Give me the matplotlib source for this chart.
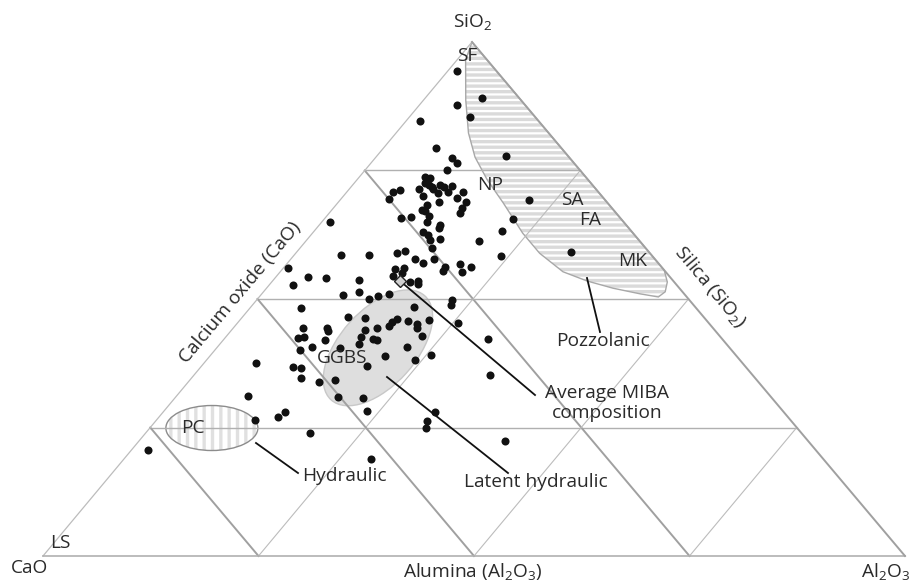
import numpy as np
import matplotlib
matplotlib.use("Agg")
import matplotlib.pyplot as plt
from matplotlib.patches import Polygon, Ellipse

plt.rcParams['font.family'] = ['Open Sans', 'DejaVu Sans']
plt.rcParams['mathtext.fontset'] = 'custom'
plt.rcParams['mathtext.rm'] = 'Open Sans'
plt.rcParams['mathtext.it'] = 'Open Sans:italic'
plt.rcParams['hatch.linewidth'] = 2.4

# compositions (wt %), CaO is the remainder
sio2 = [94.4, 89.1, 87.7, 85.4, 84.6, 79.4, 77.8, 77.4, 76.5, 75.1,
        73.7, 73.5, 72.6, 72.2, 71.8, 72.2, 71.8, 72.0, 70.8, 71.4,
        70.6, 70.8, 70.0, 69.6, 68.9, 68.9, 68.3, 67.3, 67.1, 67.7,
        66.7, 66.1, 66.0, 65.8, 71.2, 70.8, 69.5, 64.4, 63.8, 63.0,
        62.5, 61.5, 61.7, 61.3, 59.9, 63.2, 65.6, 69.3, 58.4, 59.1,
        65.0, 58.6, 58.6, 58.9, 59.3, 57.8, 57.0, 57.8, 56.0, 54.3,
        54.1, 52.7, 53.7, 55.8, 56.0, 55.1, 54.5, 53.3, 53.5, 52.9,
        55.4, 56.2, 56.8, 55.3, 56.2, 50.8, 51.4, 50.0, 50.6, 51.0,
        48.2, 48.4, 49.8, 48.8, 46.5, 46.3, 44.4, 44.4, 43.8, 42.4,
        42.6, 42.0, 40.7, 40.1, 40.5, 44.0, 42.6, 41.2, 42.2, 42.0,
        44.4, 44.7, 45.5, 46.1, 45.7, 45.1, 44.4, 45.9, 42.8, 40.7,
        38.1, 39.1, 38.9, 37.0, 45.3, 42.2, 35.2, 37.5, 36.8, 36.6,
        34.6, 33.9, 34.2, 30.9, 30.7, 28.2, 31.1, 27.0, 28.0, 26.5,
        23.9, 20.6, 18.9, 28.0, 26.3, 24.9, 22.4, 71.4, 65.0]
al2o3 = [1.1, 6.6, 4.4, 7.0, 1.6, 6.1, 15.0, 8.9, 10.0, 9.5,
         7.6, 8.3, 8.2, 8.9, 9.4, 10.1, 10.8, 11.6, 11.7, 8.1,
         10.7, 13.5, 9.3, 13.4, 14.8, 11.6, 10.5, 10.5, 10.9, 14.9,
         15.2, 11.9, 9.9, 8.8, 6.0, 5.4, 5.5, 14.0, 14.2, 12.7,
         13.6, 14.3, 15.4, 20.1, 15.3, 21.8, 21.9, 21.9, 24.1, 31.8,
         1.0, 5.4, 8.6, 11.7, 12.5, 14.4, 15.7, 16.6, 0.5, 3.7,
         5.9, 2.8, 9.9, 13.1, 14.0, 14.2, 13.5, 16.0, 16.9, 17.2,
         18.8, 18.7, 20.1, 21.1, 21.7, 9.5, 11.1, 12.9, 13.7, 14.7,
         5.9, 19.0, 22.7, 23.0, 12.2, 14.3, 8.1, 10.9, 11.3, 8.5,
         9.1, 11.8, 11.0, 9.8, 14.3, 15.5, 15.7, 16.1, 17.3, 17.9,
         16.7, 17.9, 17.9, 18.1, 19.6, 20.9, 21.3, 21.9, 22.7, 22.0,
         24.2, 25.5, 20.3, 19.2, 25.6, 30.6, 34.3, 6.1, 10.7, 11.7,
         12.7, 15.1, 16.8, 18.9, 21.8, 23.5, 8.3, 13.8, 14.1, 11.4,
         19.1, 1.9, 28.7, 31.5, 31.5, 32.0, 42.5, 9.7, 12.2]

miba_sio2, miba_al2o3 = 53.5, 14.8

# pozzolanic field outline
poz_sio2 = [100, 96.5, 88.7, 82.3, 77.6, 73.2, 68.7, 62.8, 58.9, 55.3,
            53.5, 52.1, 51.0, 50.4, 51.4, 53.3, 55.6, 100]
poz_al2o3 = [0, 1.0, 4.9, 8.4, 11.5, 15.1, 19.2, 24.4, 28.3, 32.8,
             36.5, 40.2, 43.9, 46.3, 46.6, 45.9, 44.4, 0]
ggbs_c = (40.5, 18.7)
pc_c = (24.9, 7.2)

H = 514 / 862
AX = 429 / 862


def tern(si, al):
    si = np.asarray(si, float) / 100
    al = np.asarray(al, float) / 100
    return al + si * AX, si * H


def pix(x, y):
    # layout helper: picture pixel -> axes data
    return (x - 43) / 862, (556 - y) / 862


fig = plt.figure(figsize=(9.1, 5.84), dpi=100)
ax = fig.add_axes([0, 0, 1, 1])
ax.set_xlim(-43 / 862, 867 / 862)
ax.set_ylim(-28 / 862, 556 / 862)
ax.axis('off')

# fields
px_, py_ = tern(poz_sio2, poz_al2o3)
pts = np.column_stack([px_, py_])
ax.add_patch(Polygon(pts, closed=True, facecolor='white', edgecolor='#dadada',
                     hatch='---', lw=0, zorder=1))
ax.add_patch(Polygon(pts, closed=True, facecolor='none', edgecolor='#a8a8a8',
                     lw=1.0, zorder=1.5))

gx, gy = tern(*ggbs_c)
ax.add_patch(Ellipse((gx, gy), 140 / 862, 76 / 862, angle=48,
                     facecolor='#dedede', edgecolor='#c8c8c8', lw=1.0, zorder=1))

cx, cy = tern(*pc_c)
ax.add_patch(Ellipse((cx, cy), 92 / 862, 45 / 862, facecolor='white',
                     edgecolor='#e0e0e0', hatch='||', lw=0, zorder=1))
ax.add_patch(Ellipse((cx, cy), 92 / 862, 45 / 862, facecolor='none',
                     edgecolor='#8c8c8c', lw=1.0, zorder=1.5))

# grid
for k in [25, 50, 75]:
    x, y = tern([k, k], [0, 100 - k])
    ax.plot(x, y, color='#b0b0b0', lw=1.0, zorder=2)
    x, y = tern([100 - k, 0], [0, 100 - k])
    ax.plot(x, y, color='#a0a0a0', lw=1.4, zorder=2)
    x, y = tern([0, 100 - k], [k, k])
    ax.plot(x, y, color='#bcbcbc', lw=0.8, zorder=2)

x, y = tern([0, 100], [0, 0])
ax.plot(x, y, color='#bcbcbc', lw=0.9, zorder=2)
x, y = tern([0, 0], [0, 100])
ax.plot(x, y, color='#b0b0b0', lw=1.2, zorder=2)
x, y = tern([100, 0], [0, 100])
ax.plot(x, y, color='#a0a0a0', lw=1.4, zorder=2)

# data
x, y = tern(sio2, al2o3)
ax.plot(x, y, 'o', color='#111111', ms=5.8, mec='none', zorder=3)

# leader lines
mx, my = tern(miba_sio2, miba_al2o3)
lines = [((600, 332), (587, 278)),
         ((535, 395), None),
         ((387, 377), (508, 473)),
         ((256, 443), (298, 473))]
for a, b in lines:
    if b is None:
        x0, y0 = mx, my
    else:
        x0, y0 = pix(*b)
    x1, y1 = pix(*a)
    ax.plot([x0, x1], [y0, y1], color='#111111', lw=1.3, zorder=4)
ax.plot(mx, my, 'D', ms=6, mfc='#d0d0d0', mec='#222222', mew=1.0, zorder=5)

tc = '#2a2a2a'
fs = 13.8


def label(x, y, s, **kw):
    kw.setdefault('fontsize', fs)
    ax.text(*pix(x, y), s, ha='center', va='center', color=tc, zorder=6, **kw)


label(473, 22, 'SiO$_2$')
label(30, 568, 'CaO')
label(886, 571, 'Al$_2$O$_3$')
label(473, 572, 'Alumina (Al$_2$O$_3$)')
label(240, 293, 'Calcium oxide (CaO)', rotation=50, rotation_mode='anchor')
label(710, 287, 'Silica (SiO$_2$)', rotation=-50, rotation_mode='anchor')

label(467, 56, 'SF')
label(490, 185, 'NP')
label(572, 200, 'SA')
label(590, 220, 'FA')
label(633, 261, 'MK')
label(60, 543, 'LS')
label(193, 428, 'PC')
label(342, 358, 'GGBS')
label(603, 341, 'Pozzolanic')
label(607, 403, 'Average MIBA\ncomposition', linespacing=1.1)
label(536, 482, 'Latent hydraulic')
label(344, 476, 'Hydraulic')

fig.savefig('out.png', dpi=100)
